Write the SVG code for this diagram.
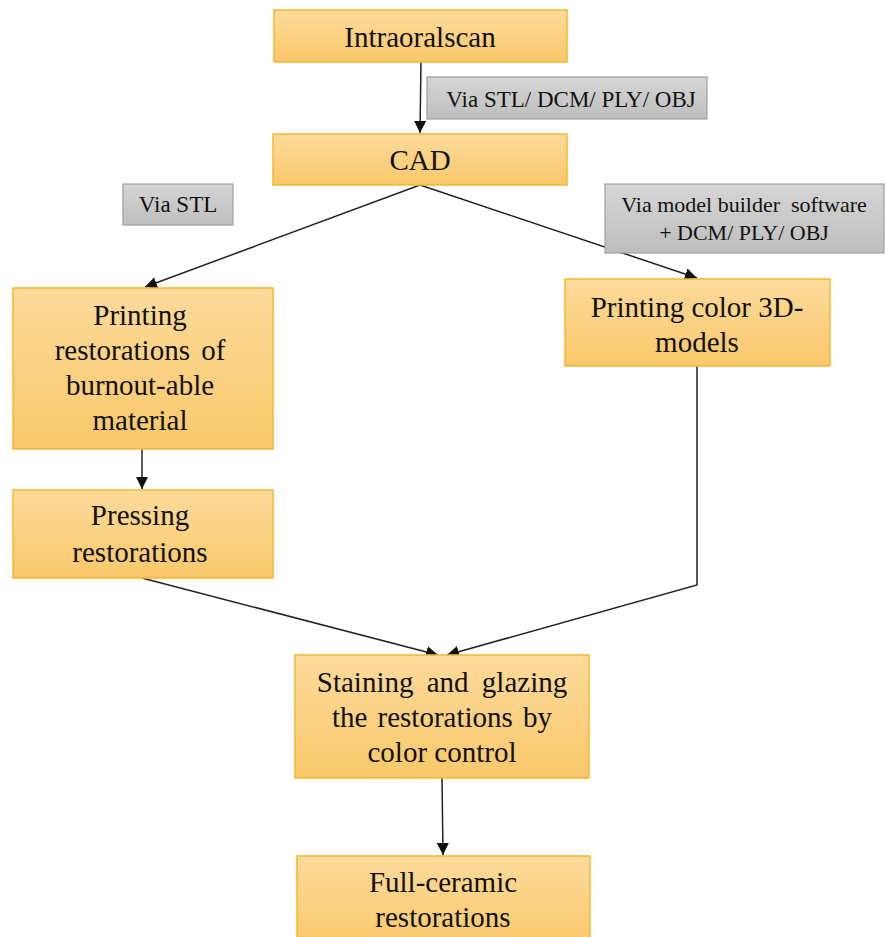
<svg xmlns="http://www.w3.org/2000/svg" width="886" height="937" viewBox="0 0 886 937">
<defs>
<linearGradient id="gO" x1="0" y1="0" x2="0" y2="1">
<stop offset="0" stop-color="#FDDB9C"/>
<stop offset="1" stop-color="#F9C86A"/>
</linearGradient>
<linearGradient id="gG" x1="0" y1="0" x2="0" y2="1">
<stop offset="0" stop-color="#D6D6D6"/>
<stop offset="1" stop-color="#BEBEBE"/>
</linearGradient>
<marker id="ah" viewBox="0 0 10 10" refX="10" refY="5" markerWidth="12" markerHeight="12" markerUnits="userSpaceOnUse" orient="auto">
<path d="M0,0 L10,5 L0,10 z" fill="#111"/>
</marker>
</defs>
<style>
.box{fill:url(#gO);stroke:#F5B731;stroke-width:1.5}
.lab{fill:url(#gG);stroke:#9E9E9E;stroke-width:1.2}
text{font-family:'Liberation Serif',serif;fill:#111;text-anchor:middle}
.t{font-size:29px}
.s{font-size:23px}
.s2{font-size:22px}
.c{fill:none;stroke:#222;stroke-width:1.5}
</style>
<rect width="886" height="937" fill="#fff"/>
<g id="connectors">
<line class="c" x1="421" y1="62" x2="420" y2="133" marker-end="url(#ah)"/>
<line class="c" x1="420" y1="185" x2="145" y2="287" marker-end="url(#ah)"/>
<line class="c" x1="420" y1="185" x2="697" y2="278" marker-end="url(#ah)"/>
<line class="c" x1="142" y1="449" x2="142" y2="489" marker-end="url(#ah)"/>
<line class="c" x1="142" y1="578" x2="438" y2="655" marker-end="url(#ah)"/>
<polyline class="c" points="697,366 697,585 447,655" marker-end="url(#ah)"/>
<line class="c" x1="442" y1="778" x2="443" y2="855" marker-end="url(#ah)"/>
</g>
<g id="intraoralscan">
<rect class="box" x="274" y="10" width="293" height="52"/>
<text class="t" x="420" y="47">Intraoralscan</text>
</g>
<g id="label-stl-dcm">
<rect class="lab" x="427" y="77" width="280" height="42"/>
<text class="s" x="571" y="107">Via STL/ DCM/ PLY/ OBJ</text>
</g>
<g id="cad">
<rect class="box" x="273" y="134" width="294" height="51"/>
<text class="t" x="420" y="170">CAD</text>
</g>
<g id="label-stl">
<rect class="lab" x="123" y="184" width="110" height="41"/>
<text class="s" x="178" y="212">Via STL</text>
</g>
<g id="label-model-builder">
<rect class="lab" x="605" y="184" width="279" height="69"/>
<text class="s2" x="744" y="212" xml:space="preserve">Via model builder  software</text>
<text class="s2" x="744" y="240">+ DCM/ PLY/ OBJ</text>
</g>
<g id="printing-restorations">
<rect class="box" x="13" y="288" width="260" height="161"/>
<text class="t" x="140" y="325">Printing</text>
<text class="t" x="140" y="360" word-spacing="4">restorations of</text>
<text class="t" x="140" y="395">burnout-able</text>
<text class="t" x="140" y="430">material</text>
</g>
<g id="printing-color">
<rect class="box" x="565" y="279" width="265" height="87"/>
<text class="t" x="697" y="317">Printing color 3D-</text>
<text class="t" x="697" y="352">models</text>
</g>
<g id="pressing">
<rect class="box" x="13" y="490" width="260" height="88"/>
<text class="t" x="140" y="525">Pressing</text>
<text class="t" x="140" y="562">restorations</text>
</g>
<g id="staining">
<rect class="box" x="295" y="655" width="294" height="123"/>
<text class="t" x="442" y="692" word-spacing="6">Staining and glazing</text>
<text class="t" x="442" y="727" word-spacing="3">the restorations by</text>
<text class="t" x="442" y="762">color control</text>
</g>
<g id="full-ceramic">
<rect class="box" x="297" y="856" width="293" height="90"/>
<text class="t" x="443" y="892">Full-ceramic</text>
<text class="t" x="443" y="927">restorations</text>
</g>
</svg>
